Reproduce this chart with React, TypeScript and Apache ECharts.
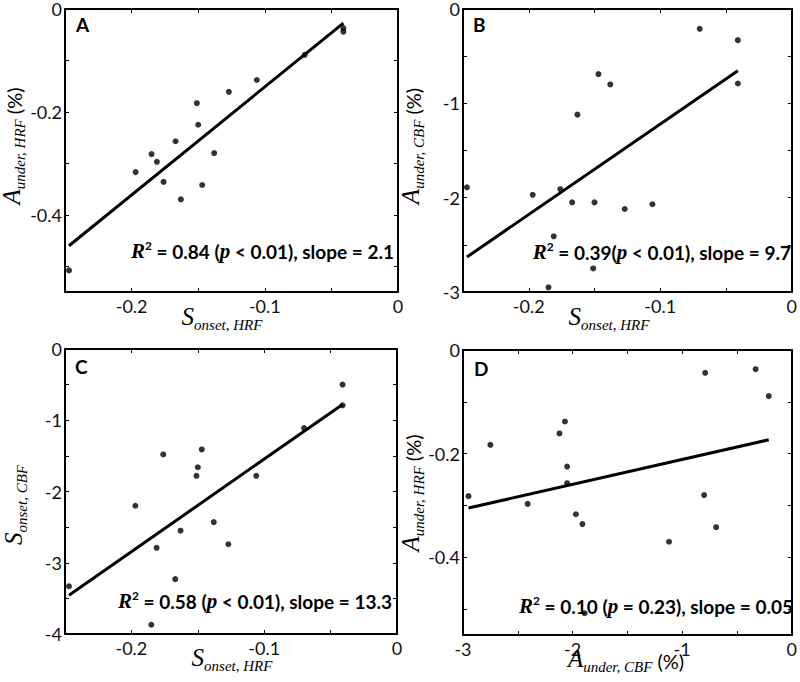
import React, { useEffect, useRef } from 'react';
import * as echarts from 'echarts';

// One entry per subject (16 subjects)
const sOnsetHRF = [-0.247, -0.197, -0.185, -0.181, -0.176, -0.167, -0.163, -0.151, -0.150, -0.147, -0.138, -0.127, -0.106, -0.070, -0.041, -0.041];
const aUnderHRF = [-0.508, -0.317, -0.282, -0.297, -0.336, -0.257, -0.370, -0.183, -0.225, -0.342, -0.280, -0.161, -0.138, -0.089, -0.037, -0.044];
const aUnderCBF = [-1.89, -1.97, -2.95, -2.41, -1.91, -2.05, -1.12, -2.75, -2.05, -0.69, -0.80, -2.12, -2.07, -0.21, -0.33, -0.79];
const sOnsetCBF = [-3.33, -2.20, -3.87, -2.79, -1.48, -3.23, -2.55, -1.78, -1.66, -1.41, -2.43, -2.74, -1.78, -1.11, -0.50, -0.79];

// Tick marks and tick labels
const sOnsetHRFTicks = [-0.25, -0.2, -0.15, -0.1, -0.05, 0];
const sOnsetHRFLabels = [-0.2, -0.1, 0];
const aUnderHRFTicks = [0, -0.1, -0.2, -0.3, -0.4, -0.5];
const aUnderHRFLabels = [0, -0.2, -0.4];
const aUnderCBFTicks = [0, -0.5, -1, -1.5, -2, -2.5, -3];
const aUnderCBFLabels = [0, -1, -2, -3];
const sOnsetCBFTicks = [0, -0.5, -1, -1.5, -2, -2.5, -3, -3.5, -4];
const sOnsetCBFLabels = [0, -1, -2, -3, -4];

const panelLetters = ['A', 'B', 'C', 'D'];
const statTexts = [
  '{r|R}{s|2}{t| = 0.84 (}{r|p}{t| < 0.01), slope = 2.1}',
  '{r|R}{s|2}{t| = 0.39(}{r|p}{t| < 0.01), slope = 9.7}',
  '{r|R}{s|2}{t| = 0.58 (}{r|p}{t| < 0.01), slope = 13.3}',
  '{r|R}{s|2}{t| = 0.10 (}{r|p}{t| = 0.23), slope = 0.05}',
];
const xTitles = [
  '{b|S}{u|onset, HRF}',
  '{b|S}{u|onset, HRF}',
  '{b|S}{u|onset, HRF}',
  '{b|A}{u|under, CBF}{n| (%)}',
];
const yTitles = [
  '{b|A}{u|under, HRF}{n| (%)}',
  '{b|A}{u|under, CBF}{n| (%)}',
  '{b|S}{u|onset, CBF}',
  '{b|A}{u|under, HRF}{n| (%)}',
];

function fitLine(xs: number[], ys: number[]) {
  const n = xs.length;
  const mx = xs.reduce((a, b) => a + b, 0) / n;
  const my = ys.reduce((a, b) => a + b, 0) / n;
  let sxy = 0;
  let sxx = 0;
  for (let i = 0; i < n; i++) {
    sxy += (xs[i] - mx) * (ys[i] - my);
    sxx += (xs[i] - mx) * (xs[i] - mx);
  }
  const b = sxy / sxx;
  const a = my - b * mx;
  const x0 = Math.min(...xs);
  const x1 = Math.max(...xs);
  return [[x0, a + b * x0], [x1, a + b * x1]];
}

const panels = [
  { grid: { left: 65, top: 6, width: 333, height: 286 }, xs: sOnsetHRF, ys: aUnderHRF, xr: [-0.25, 0], yr: [-0.55, 0], xt: sOnsetHRFTicks, xl: sOnsetHRFLabels, yt: aUnderHRFTicks, yl: aUnderHRFLabels,
    letter: [76, 24], stat: [394, 250], xTitle: [222, 322], yTitle: [17, 146] },
  { grid: { left: 463, top: 6, width: 333, height: 286 }, xs: sOnsetHRF, ys: aUnderCBF, xr: [-0.25, 0], yr: [-3, 0], xt: sOnsetHRFTicks, xl: sOnsetHRFLabels, yt: aUnderCBFTicks, yl: aUnderCBFLabels,
    letter: [473, 24], stat: [791, 251], xTitle: [609, 322], yTitle: [416, 146] },
  { grid: { left: 65, top: 349, width: 332, height: 285 }, xs: sOnsetHRF, ys: sOnsetCBF, xr: [-0.25, 0], yr: [-4, 0], xt: sOnsetHRFTicks, xl: sOnsetHRFLabels, yt: sOnsetCBFTicks, yl: sOnsetCBFLabels,
    letter: [75, 366], stat: [392, 600], xTitle: [232, 663], yTitle: [19, 505] },
  { grid: { left: 463, top: 350, width: 333, height: 285 }, xs: aUnderCBF, ys: aUnderHRF, xr: [-3, 0], yr: [-0.55, 0], xt: [-3, -2.5, -2, -1.5, -1, -0.5, 0], xl: [-3, -2, -1, 0], yt: aUnderHRFTicks, yl: aUnderHRFLabels,
    letter: [474, 368], stat: [793, 605], xTitle: [626, 664], yTitle: [416, 493] },
];

const SANS = 'Lato';
const SERIF = 'Liberation Serif';

export default function App() {
  const ref = useRef<HTMLDivElement>(null);
  useEffect(() => {
    if (!ref.current) return;
    const chart = echarts.init(ref.current, null, { renderer: 'svg' });

    const lineStyle = { color: '#000', width: 2 };
    const tickStyle = { color: '#000', width: 1 };
    const labelStyle = { color: '#111', fontFamily: SANS, fontSize: 18, lineHeight: 16 };

    const grid: any[] = [];
    const xAxis: any[] = [];
    const yAxis: any[] = [];
    const series: any[] = [];
    const graphic: any[] = [];

    const titleRich = {
      b: { fontFamily: SERIF, fontStyle: 'italic', fontSize: 25, lineHeight: 20, verticalAlign: 'bottom', padding: [0, 0, 3, 0], fill: '#000' },
      u: { fontFamily: SERIF, fontStyle: 'italic', fontSize: 15, lineHeight: 12, verticalAlign: 'bottom', fill: '#000' },
      n: { fontFamily: SANS, fontSize: 20, lineHeight: 16, verticalAlign: 'bottom', padding: [0, 0, 3, 0], fill: '#000' },
    };
    const statRich = {
      r: { fontFamily: SERIF, fontStyle: 'italic', fontWeight: 'bold', fontSize: 21, lineHeight: 22, verticalAlign: 'bottom', fill: '#000' },
      s: { fontFamily: SANS, fontWeight: 'bold', fontSize: 12, lineHeight: 13, verticalAlign: 'top', fill: '#000' },
      t: { fontFamily: SANS, fontWeight: 'bold', fontSize: 19, lineHeight: 22, verticalAlign: 'bottom', fill: '#000' },
    };

    panels.forEach((p, i) => {
      grid.push({ ...p.grid, show: false });
      const common = { gridIndex: i, type: 'value', splitLine: { show: false } };
      xAxis.push({ ...common, min: p.xr[0], max: p.xr[1], position: 'bottom',
        axisLine: { show: true, onZero: false, lineStyle },
        axisTick: { show: true, inside: true, length: 4, customValues: p.xt, lineStyle: tickStyle },
        axisLabel: { show: true, customValues: p.xl, margin: 6, ...labelStyle } });
      xAxis.push({ ...common, min: p.xr[0], max: p.xr[1], position: 'top',
        axisLine: { show: true, onZero: false, lineStyle },
        axisTick: { show: true, inside: true, length: 4, customValues: p.xt, lineStyle: tickStyle },
        axisLabel: { show: false } });
      yAxis.push({ ...common, min: p.yr[0], max: p.yr[1], position: 'left',
        axisLine: { show: true, onZero: false, lineStyle },
        axisTick: { show: true, inside: true, length: 4, customValues: p.yt, lineStyle: tickStyle },
        axisLabel: { show: true, customValues: p.yl, margin: 3, ...labelStyle } });
      yAxis.push({ ...common, min: p.yr[0], max: p.yr[1], position: 'right',
        axisLine: { show: true, onZero: false, lineStyle },
        axisTick: { show: true, inside: true, length: 4, customValues: p.yt, lineStyle: tickStyle },
        axisLabel: { show: false } });

      series.push({ type: 'line', xAxisIndex: 2 * i, yAxisIndex: 2 * i, data: fitLine(p.xs, p.ys), showSymbol: false, symbol: 'none',
        lineStyle: { color: '#000', width: 3 }, z: 2 });
      series.push({ type: 'scatter', xAxisIndex: 2 * i, yAxisIndex: 2 * i, data: p.xs.map((x, k) => [x, p.ys[k]]),
        symbol: 'circle', symbolSize: 6, itemStyle: { color: '#000' }, z: 3 });

      graphic.push({ type: 'text', x: p.letter[0], y: p.letter[1], z: 100,
        style: { text: panelLetters[i], fontFamily: SANS, fontWeight: 'bold', fontSize: 19, fill: '#000', align: 'left', verticalAlign: 'middle' } });
      graphic.push({ type: 'text', x: p.stat[0], y: p.stat[1], z: 100,
        style: { text: statTexts[i], rich: statRich, align: 'right', verticalAlign: 'middle' } });
      graphic.push({ type: 'text', x: p.xTitle[0], y: p.xTitle[1], z: 100,
        style: { text: xTitles[i], rich: titleRich, align: 'center', verticalAlign: 'middle' } });
      graphic.push({ type: 'text', x: p.yTitle[0], y: p.yTitle[1], rotation: Math.PI / 2, z: 100,
        style: { text: yTitles[i], rich: titleRich, align: 'center', verticalAlign: 'middle' } });
    });

    chart.setOption({ animation: false, backgroundColor: '#fff', grid, xAxis, yAxis, series, graphic });
    return () => chart.dispose();
  }, []);
  return <div ref={ref} style={{ position: 'absolute', left: 0, top: 0, width: 800, height: 682 }} />;
}
